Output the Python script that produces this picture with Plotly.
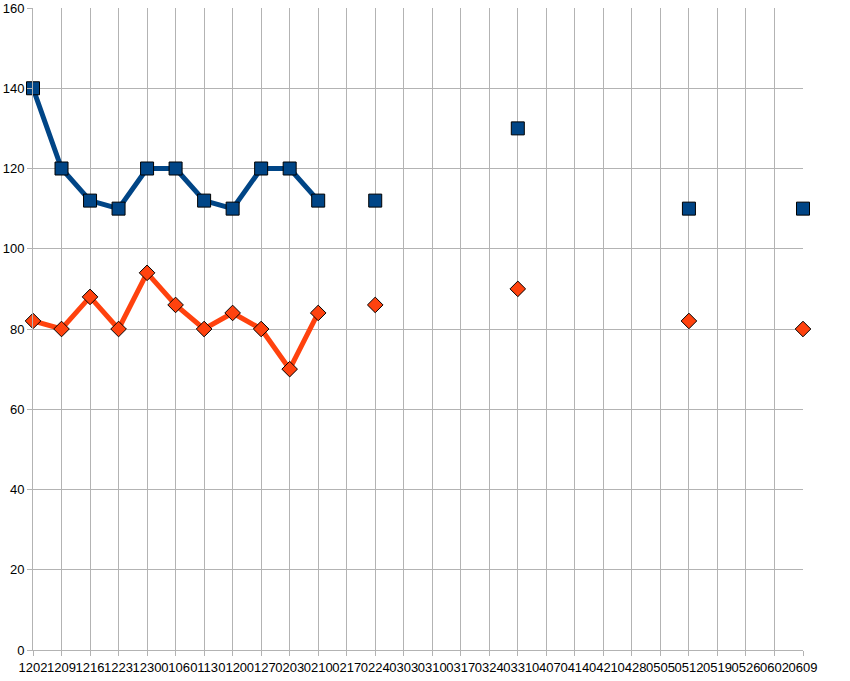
import plotly.graph_objects as go

categories = ["1202", "1209", "1216", "1223", "1230", "0106", "0113", "0120", "0127",
              "0203", "0210", "0217", "0224", "0303", "0310", "0317", "0324", "0331",
              "0407", "0414", "0421", "0428", "0505", "0512", "0519", "0526", "0602", "0609"]

blue_values = [140, 120, 112, 110, 120, 120, 112, 110, 120, 120, 112, None, 112, None,
               None, None, None, 130, None, None, None, None, None, 110, None, None, None, 110]
orange_values = [82, 80, 88, 80, 94, 86, 80, 84, 80, 70, 84, None, 86, None,
                 None, None, None, 90, None, None, None, None, None, 82, None, None, None, 80]

y_ticks = [0, 20, 40, 60, 80, 100, 120, 140, 160]

xs = list(range(len(categories)))

fig = go.Figure()
fig.add_trace(go.Scatter(
    x=xs, y=blue_values, mode="lines+markers", connectgaps=False, cliponaxis=False,
    line=dict(color="#004586", width=5),
    marker=dict(symbol="square", size=13, color="#004586", line=dict(color="#000000", width=1)),
    showlegend=False,
))
fig.add_trace(go.Scatter(
    x=xs, y=orange_values, mode="lines+markers", connectgaps=False, cliponaxis=False,
    line=dict(color="#ff420e", width=5),
    marker=dict(symbol="diamond", size=12, color="#ff420e", line=dict(color="#000000", width=1)),
    showlegend=False,
))

grid = "#b3b3b3"
fig.update_layout(
    width=850, height=681,
    margin=dict(l=33, r=47, t=8, b=31),
    paper_bgcolor="white", plot_bgcolor="white",
    font=dict(family="Liberation Sans, Arial, sans-serif", size=13, color="#000000"),
    xaxis=dict(
        tickmode="array", tickvals=xs, ticktext=categories,
        range=[0, len(categories) - 1], automargin=False,
        showgrid=True, gridcolor=grid, gridwidth=1,
        showline=True, linecolor=grid, linewidth=1,
        ticks="outside", ticklen=5, tickcolor=grid,
        zeroline=False, tickangle=0,
    ),
    yaxis=dict(
        range=[0, 160], tickvals=y_ticks, automargin=False,
        showgrid=True, gridcolor=grid, gridwidth=1,
        showline=True, linecolor=grid, linewidth=1,
        ticks="outside", ticklen=5, tickcolor=grid,
        zeroline=False,
    ),
)
fig.write_html("out.html", config={"displayModeBar": False},
               post_script="document.body.style.margin='0';")
